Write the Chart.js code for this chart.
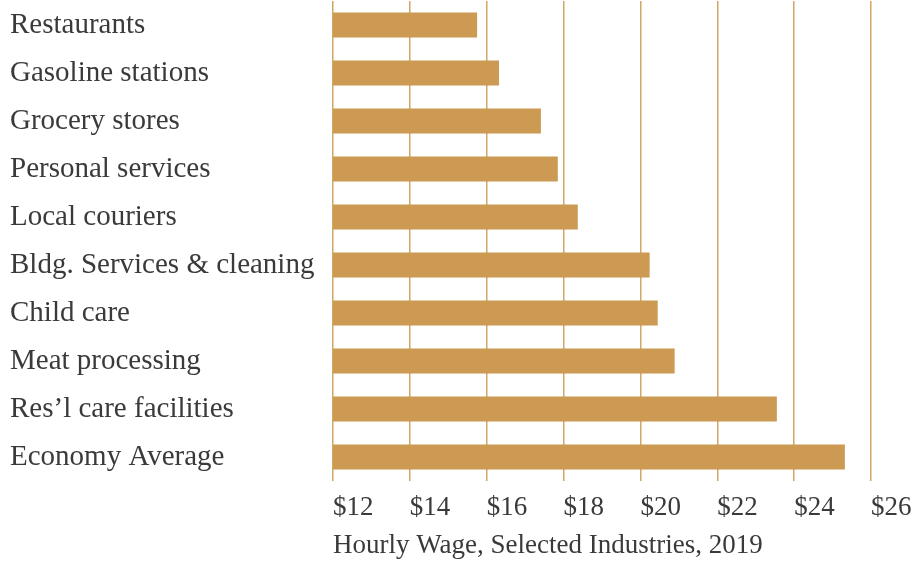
<!DOCTYPE html>
<html>
<head>
<meta charset="utf-8">
<script src="https://cdn.jsdelivr.net/npm/chart.js@4/dist/chart.umd.min.js"></script>
<style>
  body { margin: 0; background: #fff; }
  #wrap { width: 921px; height: 562px; }
</style>
</head>
<body>
<div id="wrap"><canvas id="wageChart" width="921" height="562"></canvas></div>
<script>
    // --- data ---
    const industries = [
        'Restaurants',
        'Gasoline stations',
        'Grocery stores',
        'Personal services',
        'Local couriers',
        'Bldg. Services & cleaning',
        'Child care',
        'Meat processing',
        'Res\u2019l care facilities',
        'Economy Average'
    ];
    const hourlyWage = [15.75, 16.32, 17.41, 17.85, 18.37, 20.24, 20.45, 20.89, 23.55, 25.32];
    const wageTicks = [12, 14, 16, 18, 20, 22, 24, 26];

    const gold = '#CC9A52';
    const textColor = '#3a3a3a';
    const serif = "'Liberation Serif', 'DejaVu Serif', serif";

    const ctx = document.getElementById('wageChart').getContext('2d');

    new Chart(ctx, {
        type: 'bar',
        data: {
            labels: industries,
            datasets: [{
                data: hourlyWage,
                backgroundColor: gold,
                borderWidth: 0,
                barPercentage: 0.52,
                categoryPercentage: 1.0
            }]
        },
        options: {
            indexAxis: 'y',
            responsive: false,
            animation: false,
            layout: {
                padding: { left: 10, right: 0, top: 1, bottom: 0 }
            },
            plugins: {
                legend: { display: false },
                tooltip: { enabled: false }
            },
            scales: {
                x: {
                    min: 12,
                    max: 26,
                    afterBuildTicks: (scale) => {
                        scale.ticks = wageTicks.map(v => ({ value: v }));
                    },
                    afterFit: (scale) => {
                        scale.height = 81;
                        scale.paddingLeft = 0;
                        scale.paddingRight = 50;
                    },
                    grid: {
                        color: '#D4A663',
                        lineWidth: 1.5,
                        drawTicks: false
                    },
                    border: { display: false },
                    ticks: {
                        align: 'start',
                        padding: 11,
                        color: textColor,
                        font: { family: serif, size: 27 },
                        callback: (v) => '$' + v
                    },
                    title: {
                        display: true,
                        text: 'Hourly Wage, Selected Industries, 2019',
                        align: 'start',
                        color: textColor,
                        padding: { top: 0, bottom: 0 },
                        font: { family: serif, size: 27 }
                    }
                },
                y: {
                    afterFit: (scale) => {
                        scale.width = 323;
                        scale.paddingTop = 0;
                        scale.paddingBottom = 0;
                    },
                    grid: { display: false },
                    border: { display: false },
                    ticks: {
                        crossAlign: 'far',
                        color: textColor,
                        font: { family: serif, size: 29 }
                    }
                }
            }
        }
    });
</script>
</body>
</html>
